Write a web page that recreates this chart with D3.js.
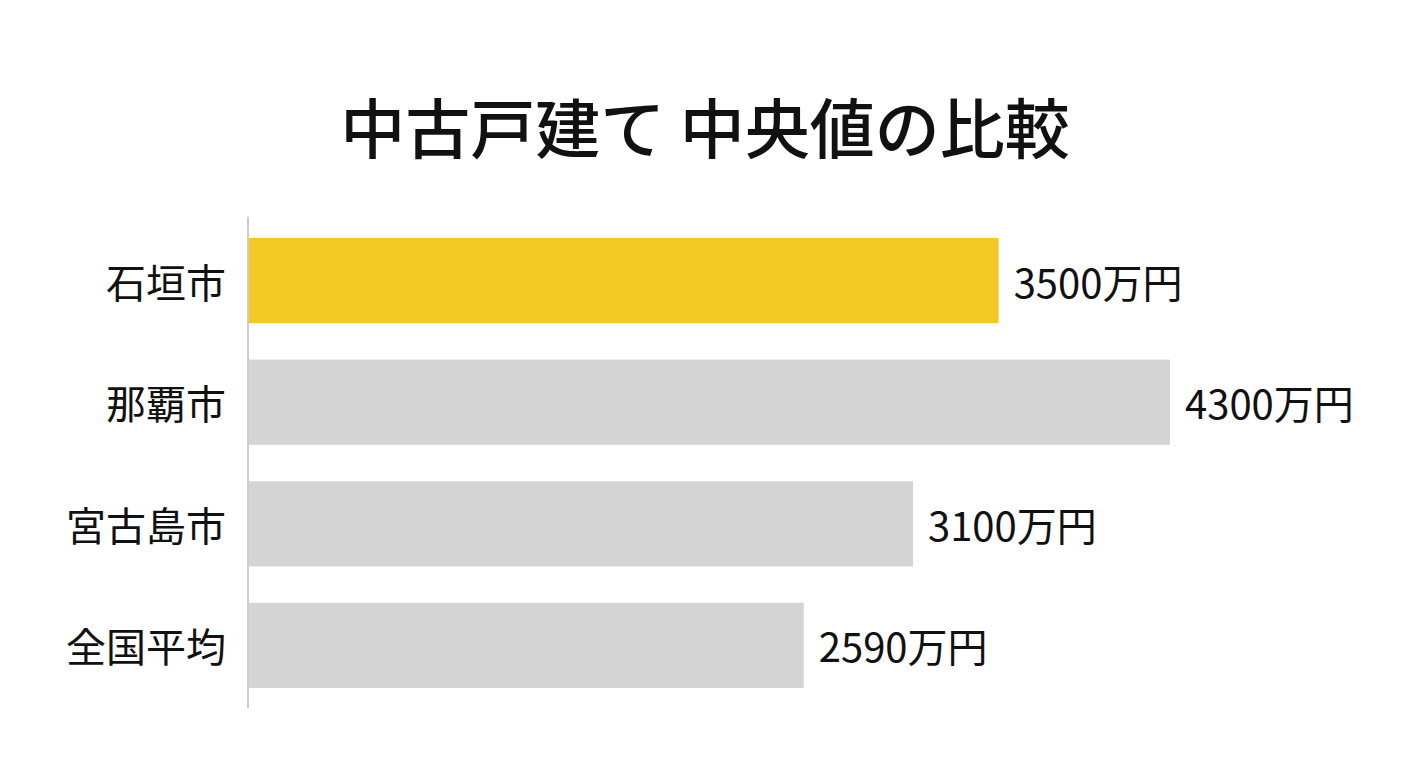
<!DOCTYPE html>
<html lang="ja">
<head>
<meta charset="utf-8">
<script src="https://cdn.jsdelivr.net/npm/d3@7"></script>
<style>
  html, body { margin: 0; padding: 0; background: #fff; }
  svg { display: block; font-family: "Noto Sans CJK JP", "Noto Sans", sans-serif; }
</style>
</head>
<body>
<svg id="svg"></svg>
<script>
// 中古戸建て 中央値 (万円)
const cities = ['石垣市', '那覇市', '宮古島市', '全国平均'];
const medians = [3500, 4300, 3100, 2590];
const highlight = ['石垣市'];

const width = 1408;
const height = 768;

const svg = d3.select('#svg')
  .attr('width', width)
  .attr('height', height);

svg.append('text')
  .attr('x', width / 2 + 1)
  .attr('y', 125)
  .attr('text-anchor', 'middle')
  .attr('dominant-baseline', 'central')
  .attr('font-size', '65px')
  .attr('font-weight', 500)
  .attr('fill', '#111')
  .text('中古戸建て 中央値の比較');

const data = cities.map((c, i) => ({ city: c, value: medians[i] }));

const xScale = d3.scaleLinear()
  .domain([0, 4300])
  .range([249, 1170]);

const yScale = d3.scaleBand()
  .domain(cities)
  .range([238, 688])
  .paddingInner(0.3)
  .paddingOuter(0);

const g = svg.append('g');

g.selectAll('rect')
  .data(data)
  .enter()
  .append('rect')
  .attr('x', xScale(0))
  .attr('y', d => yScale(d.city))
  .attr('width', d => xScale(d.value) - xScale(0))
  .attr('height', yScale.bandwidth())
  .attr('fill', d => highlight.includes(d.city) ? '#F2C922' : '#D4D4D4');

// value labels
g.selectAll('.val')
  .data(data)
  .enter()
  .append('text')
  .attr('class', 'val')
  .attr('x', d => xScale(d.value) + 15)
  .attr('y', d => yScale(d.city) + yScale.bandwidth() / 2)
  .attr('dominant-baseline', 'central')
  .attr('font-size', '40px')
  .attr('fill', '#111')
  .text(d => d3.format('d')(d.value) + '万円');

// category axis on the left
const yAxis = d3.axisLeft(yScale).tickSize(0).tickPadding(22);
const axisG = svg.append('g')
  .attr('transform', `translate(${xScale(0) - 1},0)`)
  .call(yAxis);

axisG.select('.domain').remove();
axisG.append('line')
  .attr('x1', 0).attr('x2', 0)
  .attr('y1', 217).attr('y2', 708)
  .attr('stroke', '#CCCCCC')
  .attr('stroke-width', 2);

axisG.selectAll('.tick text')
  .attr('font-size', '40px')
  .attr('font-family', '"Noto Sans CJK JP", sans-serif')
  .attr('fill', '#111')
  .attr('dy', null)
  .attr('dominant-baseline', 'central');
</script>
</body>
</html>
